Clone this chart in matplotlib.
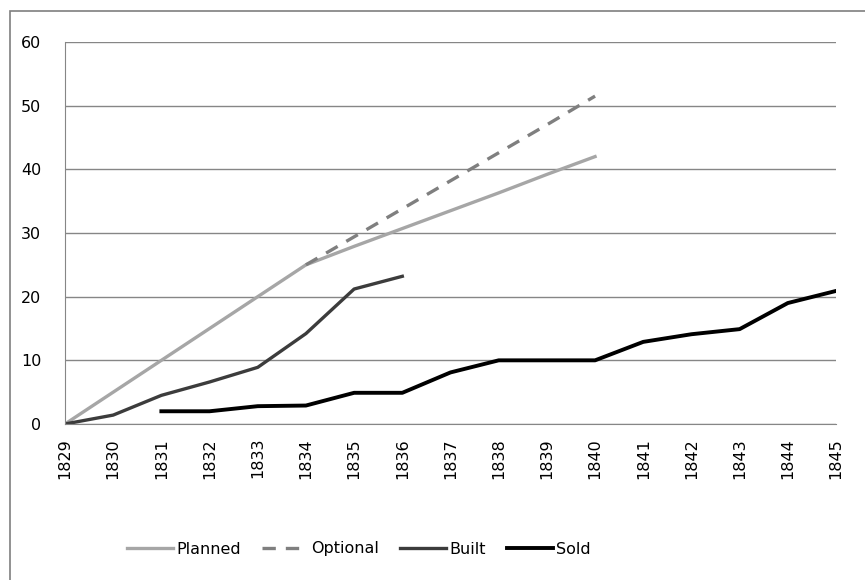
import matplotlib.pyplot as plt
from matplotlib.patches import Rectangle

years = list(range(1829, 1846))
planned = [0, 5, 10, 15, 20, 25, 27.9, 30.7, 33.5, 36.3, 39.2, 42]
optional = [25, 29.4, 33.8, 38.2, 42.6, 47, 51.5]
built = [0, 1.4, 4.5, 6.6, 8.9, 14.2, 21.2, 23.2]
sold = [2, 2, 2.8, 2.9, 4.9, 4.9, 8.1, 10, 10, 10, 12.9, 14.1, 14.9, 19, 20.9]

x = list(range(len(years)))

fig = plt.figure(figsize=(8.65, 5.8), dpi=100)
ax = fig.add_axes([65 / 865, 1 - 424 / 580, (836 - 65) / 865, (424 - 42) / 580])

# chart frame, open at the right and bottom edges
fig.patches.append(Rectangle((10 / 865, -0.1), 1.2, 1.1 - 11 / 580, transform=fig.transFigure,
                             fill=False, edgecolor='#7f7f7f', lw=1.2))

ax.plot(x[:len(planned)], planned, color='#a6a6a6', lw=2.4, label='Planned')
ax.plot(x[5:5 + len(optional)], optional, color='#7f7f7f', lw=2.4, dashes=(4, 3), label='Optional')
ax.plot(x[:len(built)], built, color='#3c3c3c', lw=2.4, label='Built')
ax.plot(x[2:2 + len(sold)], sold, color='black', lw=2.8, label='Sold')

ax.set_xlim(0, len(years) - 1)
ax.set_ylim(0, 60)
ax.set_yticks(range(0, 61, 10))
ax.set_xticks(x)
ax.set_xticklabels([str(y) for y in years], rotation=90, fontsize=11.5)
ax.tick_params(axis='y', length=0, pad=17, labelsize=11.5)
ax.tick_params(axis='x', length=0, pad=10)

ax.grid(axis='y', color='#868686', lw=1)
ax.set_axisbelow(True)
for side in ['top', 'right']:
    ax.spines[side].set_visible(False)
ax.spines['left'].set_color('#868686')
ax.spines['bottom'].set_color('#868686')

ax.legend(loc='center', bbox_to_anchor=(359 / 865, (580 - 549) / 580), bbox_transform=fig.transFigure,
          ncol=4, frameon=False, handlelength=2.9, handletextpad=0.2, columnspacing=1.3,
          fontsize=11.5)

fig.savefig('out.png', dpi=100)
